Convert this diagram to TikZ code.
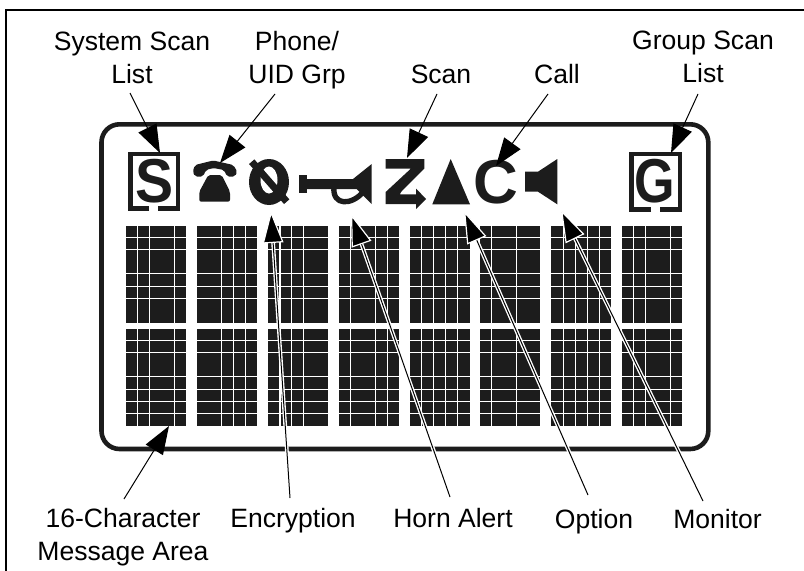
\documentclass[tikz,border=0pt]{standalone}
\usepackage{fontspec}
\setmainfont{Liberation Sans}
\usetikzlibrary{arrows.meta}
\definecolor{lcd}{HTML}{1C1C1C}

\begin{document}
\begin{tikzpicture}[
    x=0.75pt, y=-0.75pt,
    label/.style={font=\fontsize{19.9}{24.4}\selectfont, align=center, inner sep=0pt, anchor=base},
    letter/.style={font=\fontsize{46.5}{46.5}\selectfont\bfseries, text=lcd, inner sep=0pt},
    icon/.style={fill=lcd, draw=none},
    bracket/.style={draw=lcd, line width=3.2pt},
    gridline/.style={draw=white, line width=0.9pt},
    callout/.style={draw=black, line width=0.75pt, -{Triangle[length=21pt,width=15pt]}},
    halo/.style={preaction={draw=white, line width=2.8pt, -}, -{Triangle[length=24pt,width=15.5pt,color=white,fill=black,line width=0.9pt]}},
]
\useasboundingbox (0,0) rectangle (804,571);

% Frame
\draw[black, line width=1.5pt] (6.3,571) -- (6.3,10) -- (804,10);

% Display outline
\draw[draw=lcd, line width=3.45pt, rounded corners=13.5pt] (101.5,124.3) rectangle (708.3,449);

% Character cells
\foreach \cellx/\vgaps in {126/{11.5,23.5,48.5},197/{24.3,36.3,48.3},268/{12,23.5,35.5},339/{11.3,36.3,48.3},
                           410/{11.7,23.5,35.7,47.7},480/{11.5,36.3},551/{12.3,24.7,36.7,48.7},622/{11.5,23.5,48.5}}{
  \foreach \celly/\hgaps in {226/{11.2,23.3,47.5,60.3,72.3},329/{11.3,23.3,47.8,60.3,72.3,84.3}}{
    \fill[lcd] (\cellx,\celly) rectangle ++(60,97);
    \foreach \g in \vgaps \draw[gridline] (\cellx+\g,\celly) -- ++(0,97);
    \foreach \g in \hgaps \draw[gridline] (\cellx,\celly+\g) -- ++(60,0);
  }
}

% System scan list icon
\draw[bracket] (149,208.6) -- (130.5,208.6) -- (130.5,154) -- (178,154) -- (178,208.6) -- (158,208.6);
\node[letter, xscale=0.92] (iconS) at (155,181) {S};

% Phone icon
\fill[icon, rounded corners=1.5pt] (192.7,171.7) -- (195,165) -- (213.3,160.5) -- (233.3,165) -- (237.3,171.7) -- (235,176.5)
  -- (227,176.5) -- (224,170) -- (213.3,168) -- (206,170) -- (203,176.5) -- (195,176.5) -- cycle;
\fill[icon, rounded corners=1.5pt] (208.3,175) -- (221.7,175) -- (230,191.7) -- (230,201.7) -- (199.3,201.7) -- (199.3,191.7) -- cycle;

% Encryption icon
\fill[icon] (269,182) ellipse (20 and 23);
\fill[white] (269,180) ellipse (8.5 and 13.5);
\draw[draw=lcd, line width=5.3pt] (251.7,161.7) -- (286.7,201.7);

% Horn icon
\fill[icon] (299.3,175) rectangle (307,193);
\fill[icon] (307,179) -- (353,179) -- (371.7,164) -- (371.7,204) -- (356.7,189) -- (307,189) -- cycle;
\draw[draw=lcd, line width=4pt] (334,187) .. controls (332,206) and (352,206) .. (364,191);

% Scan icon
\fill[icon] (385.7,159) -- (424.3,159) -- (424.3,168.5) -- (401,192) -- (400,194.3) -- (416,194.3) -- (416,188.5) -- (426,199)
  -- (416,209) -- (416,204) -- (385.7,204) -- (385.7,192) -- (411,168.5) -- (385.7,168.5) -- cycle;

% Option icon
\fill[icon] (450.7,159) -- (470,204.3) -- (432.3,204.3) -- cycle;

% Call icon
\node[letter] (iconC) at (496,182) {C};

% Monitor icon
\fill[icon] (525,171.7) -- (538,171.7) -- (557.3,159) -- (557.3,204.3) -- (538,191.7) -- (525,191.7) -- cycle;

% Group scan list icon
\draw[bracket] (651,209.5) -- (631.5,209.5) -- (631.5,154) -- (680,154) -- (680,209.5) -- (660,209.5);
\node[letter, xscale=0.84] (iconG) at (654.5,181.5) {G};

% Labels
\node[label] (sysLabel) at (132,83) {System Scan\\List};
\node[label] (phoneLabel) at (297,83) {Phone/\\UID Grp};
\node[label] (scanLabel) at (441,83) {Scan};
\node[label] (callLabel) at (557,83) {Call};
\node[label] (groupLabel) at (703,82) {Group Scan\\List};
\node[label] (msgLabel) at (123,560) {16-Character\\Message Area};
\node[label] (encLabel) at (293,527) {Encryption};
\node[label] (hornLabel) at (453,527) {Horn Alert};
\node[label] (optLabel) at (594,528) {Option};
\node[label] (monLabel) at (717.5,528) {Monitor};

% Arrow ends
\coordinate (sysTail) at (130,93);     \coordinate (sysTip) at (160,153);
\coordinate (phoneTail) at (275,94);   \coordinate (phoneTip) at (220,163);
\coordinate (scanTail) at (437,94);    \coordinate (scanTip) at (407,158);
\coordinate (callTail) at (548,94);    \coordinate (callTip) at (496,166);
\coordinate (groupTail) at (698,94);   \coordinate (groupTip) at (671,153);
\coordinate (msgTail) at (124,499);    \coordinate (msgTip) at (169,426);
\coordinate (encTail) at (290,498);    \coordinate (encTip) at (271,211);
\coordinate (hornTail) at (450,497);   \coordinate (hornTip) at (351,214);
\coordinate (optTail) at (588,495);    \coordinate (optTip) at (464,211);
\coordinate (monTail) at (703,501);    \coordinate (monTip) at (561,210);

% Arrows
\draw[callout] (sysTail) -- (sysTip);
\draw[callout] (phoneTail) -- (phoneTip);
\draw[callout] (scanTail) -- (scanTip);
\draw[callout] (callTail) -- (callTip);
\draw[callout] (groupTail) -- (groupTip);
\draw[callout] (msgTail) -- (msgTip);
\draw[callout, halo] (encTail) -- (encTip);
\draw[callout, halo] (hornTail) -- (hornTip);
\draw[callout, halo] (optTail) -- (optTip);
\draw[callout, halo] (monTail) -- (monTip);

\end{tikzpicture}
\end{document}
